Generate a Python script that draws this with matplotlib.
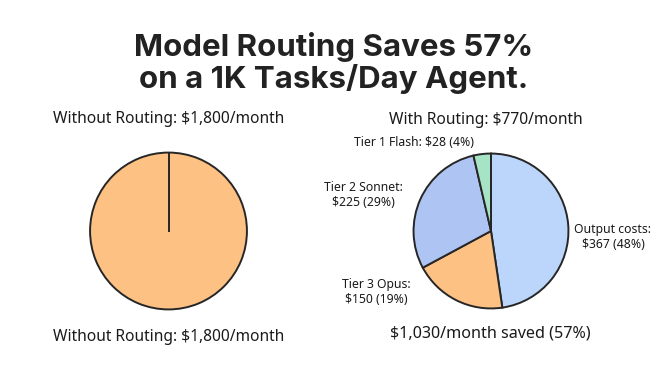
import matplotlib
matplotlib.use("Agg")
import matplotlib.pyplot as plt

# Data
without_labels = ["Without Routing"]
without_values = [1800]
with_labels = ["Output costs", "Tier 3 Opus", "Tier 2 Sonnet", "Tier 1 Flash"]
with_values = [367, 150, 225, 28]
with_pcts = [48, 19, 29, 4]
with_colors = ["#BBD6FA", "#FCC183", "#AEC5F4", "#A7E4C5"]
without_colors = ["#FCC183"]

title = "Model Routing Saves 57%\non a 1K Tasks/Day Agent."
left_title = "Without Routing: $1,800/month"
right_title = "With Routing: $770/month"
left_bottom = "Without Routing: $1,800/month"
right_bottom = "$1,030/month saved (57%)"

W, H = 672, 375
fig = plt.figure(figsize=(W / 100, H / 100), dpi=100)
fig.patch.set_facecolor("white")

def px(x, y):
    return x / W, 1 - y / H

def pie_axes(cx, cy, r):
    ax = fig.add_axes([(cx - r) / W, 1 - (cy + r) / H, 2 * r / W, 2 * r / H])
    return ax

edge = "#262626"
lab_font = "Noto Sans"

# Left pie
axl = pie_axes(168.5, 231, 80)
axl.pie(without_values, colors=without_colors, startangle=90, counterclock=False,
        radius=1, wedgeprops=dict(edgecolor=edge, linewidth=1.4))
axl.plot([0, 0], [0, 1], color=edge, linewidth=1.4)
axl.set_xlim(-1.02, 1.02)
axl.set_ylim(-1.02, 1.02)
axl.set_aspect("equal")
axl.axis("off")

# Right pie
axr = pie_axes(491, 231, 79)
axr.pie(with_values, colors=with_colors, startangle=90, counterclock=False,
        radius=1, wedgeprops=dict(edgecolor=edge, linewidth=1.4))
axr.set_xlim(-1.02, 1.02)
axr.set_ylim(-1.02, 1.02)
axr.set_aspect("equal")
axr.axis("off")

# Slice labels (positions in pixels)
label_pos = {
    "Output costs": (613, 237),
    "Tier 3 Opus": (376, 292),
    "Tier 2 Sonnet": (363, 195),
    "Tier 1 Flash": (414, 143),
}
for name, val, pct in zip(with_labels, with_values, with_pcts):
    x, y = label_pos[name]
    if name == "Tier 1 Flash":
        txt = f"{name}: ${val} ({pct}%)"
    else:
        txt = f"{name}:\n${val} ({pct}%)"
    fig.text(*px(x, y), txt, ha="center", va="center", fontsize=8.8,
             family=lab_font, color="#1a1a1a", linespacing=1.2)

# Titles
fig.text(*px(334, 63), title, ha="center", va="center", fontsize=22.5,
         family="Inter", fontweight="bold", color="#222222", linespacing=1.1)
fig.text(*px(169, 119), left_title, ha="center", va="center", fontsize=11.2,
         family=lab_font, color="#1a1a1a")
fig.text(*px(486, 120), right_title, ha="center", va="center", fontsize=11.2,
         family=lab_font, color="#1a1a1a")
fig.text(*px(169, 337), left_bottom, ha="center", va="center", fontsize=11.2,
         family=lab_font, color="#1a1a1a")
fig.text(*px(490, 334), right_bottom, ha="center", va="center", fontsize=11.6,
         family=lab_font, color="#1a1a1a")

fig.savefig("out.png", dpi=100, facecolor="white")
